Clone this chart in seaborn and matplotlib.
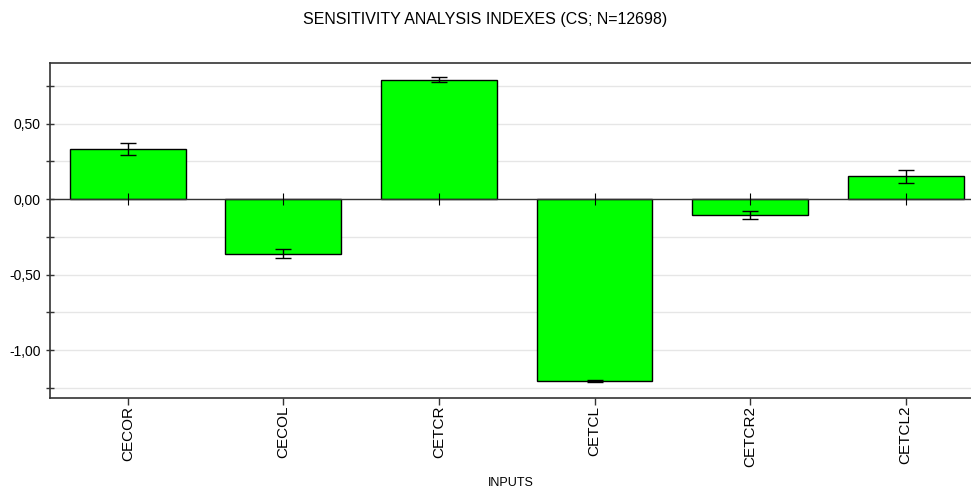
import pandas as pd
import seaborn as sns
import matplotlib.pyplot as plt
from matplotlib.ticker import MultipleLocator, FuncFormatter

# Data
inputs = ['CECOR', 'CECOL', 'CETCR', 'CETCL', 'CETCR2', 'CETCL2']
index_values = [0.331, -0.362, 0.790, -1.205, -0.104, 0.150]
index_errors = [0.037, 0.028, 0.015, 0.005, 0.027, 0.045]

df = pd.DataFrame({'input': inputs, 'value': index_values})

sns.set_style('white')
plt.rcParams['font.family'] = ['Liberation Sans', 'DejaVu Sans']
plt.rcParams['text.color'] = 'black'
plt.rcParams['xtick.color'] = 'black'
plt.rcParams['ytick.color'] = 'black'
plt.rcParams['axes.labelcolor'] = 'black'

fig = plt.figure(figsize=(9.71, 4.97), dpi=100)
ax = fig.add_axes([0.0515, 0.2, 0.9485, 0.673])

sns.barplot(data=df, x='input', y='value', color='#00ff00', saturation=1,
            edgecolor='black', linewidth=1, width=0.745, errorbar=None, ax=ax)

pos = range(len(inputs))
ax.errorbar(pos, index_values, yerr=index_errors, fmt='none',
            ecolor='black', elinewidth=1, capsize=5.5, capthick=1, zorder=5)

# zero line with small ticks at each category
ax.axhline(0, color='#333333', lw=1, zorder=4)
ax.plot(pos, [0] * len(inputs), ls='none', marker='|', ms=8,
        mec='black', mew=0.8, zorder=5)

ax.set_xlim(-0.5, 5.42)
ax.set_ylim(-1.315, 0.90)

ax.yaxis.set_major_locator(MultipleLocator(0.5))
ax.yaxis.set_minor_locator(MultipleLocator(0.25))
ax.yaxis.set_major_formatter(FuncFormatter(lambda v, p: '{:.2f}'.format(v).replace('.', ',')))
ax.grid(which='both', axis='y', color='#e6e6e6', lw=1)
ax.set_axisbelow(True)

ax.tick_params(axis='y', which='both', direction='inout', length=6, width=1,
               color='#333333', labelsize=10, left=True)
ax.tick_params(axis='x', direction='out', length=5, width=1,
               color='#333333', labelsize=11, bottom=True, pad=1)
plt.setp(ax.get_xticklabels(), rotation=90)

for side in ['left', 'bottom', 'top']:
    ax.spines[side].set_color('#333333')
    ax.spines[side].set_linewidth(1.2)
ax.spines['right'].set_visible(False)

ax.set_xlabel('INPUTS', fontsize=9, labelpad=7)
ax.set_ylabel('')
fig.suptitle('SENSITIVITY ANALYSIS INDEXES (CS; N=12698)', fontsize=11.5, y=0.975)

plt.savefig('out.png', dpi=100)
